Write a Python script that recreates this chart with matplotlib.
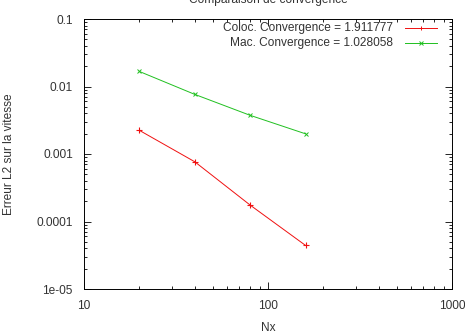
import matplotlib.pyplot as plt
from matplotlib.lines import Line2D

# data
nx = [20, 40, 80, 160]
err_coloc = [0.00224, 0.000767, 0.000175, 4.42e-5]
err_mac = [0.0167, 0.00764, 0.00374, 0.00199]
label_coloc = "Coloc. Convergence = 1.911777"
label_mac = "Mac. Convergence = 1.028058"

plt.rcParams['font.family'] = ['Liberation Sans', 'DejaVu Sans']
plt.rcParams['font.size'] = 8.6

red = '#f01010'
green = '#20c020'

fig = plt.figure(figsize=(4.65, 3.33), dpi=100)
ax = fig.add_axes([84 / 465, 1 - 289 / 333, (452 - 84) / 465, (289 - 19) / 333])

ax.plot(nx, err_coloc, color=red, lw=0.7, marker='+', ms=4.5, mew=0.8)
ax.plot(nx, err_mac, color=green, lw=0.7, marker='x', ms=3.5, mew=0.7)

ax.set_xscale('log')
ax.set_yscale('log')
ax.set_xlim(10, 1000)
ax.set_ylim(1e-5, 0.1)
ax.set_xticks([10, 100, 1000])
ax.set_xticklabels(['10', '100', '1000'])
ax.set_yticks([1e-5, 1e-4, 1e-3, 1e-2, 1e-1])
ax.set_yticklabels(['1e-05', '0.0001', '0.001', '0.01', '0.1'])
ax.tick_params(which='both', direction='in', top=True, right=True,
               colors='black', labelcolor='#333333', width=0.6)
ax.tick_params(which='major', length=5, pad=8)
ax.tick_params(which='minor', length=2.5)
for s in ax.spines.values():
    s.set_linewidth(0.7)

ax.set_xlabel('Nx', color='#333333', labelpad=7)
fig.text(9 / 465, 1 - 154 / 333, 'Erreur L2 sur la vitesse', rotation=90,
         ha='center', va='center', color='#333333')
fig.text(268 / 465, 1 - 0 / 333, 'Comparaison de convergence', ha='center',
         va='center', color='#333333')

# legend drawn gnuplot style: text right aligned, sample line right of it
for row, (lab, col, mk) in enumerate([(label_coloc, red, '+'),
                                      (label_mac, green, 'x')]):
    yy = 1 - (28 + 15 * row) / 333
    fig.text(393 / 465, yy, lab, ha='right', va='center', color='#333333')
    fig.add_artist(Line2D([405 / 465, 437 / 465], [yy, yy], color=col, lw=0.7))
    fig.add_artist(Line2D([421 / 465], [yy], color=col, marker=mk, ms=3.5, mew=0.7))

fig.savefig('out.png', dpi=100)
